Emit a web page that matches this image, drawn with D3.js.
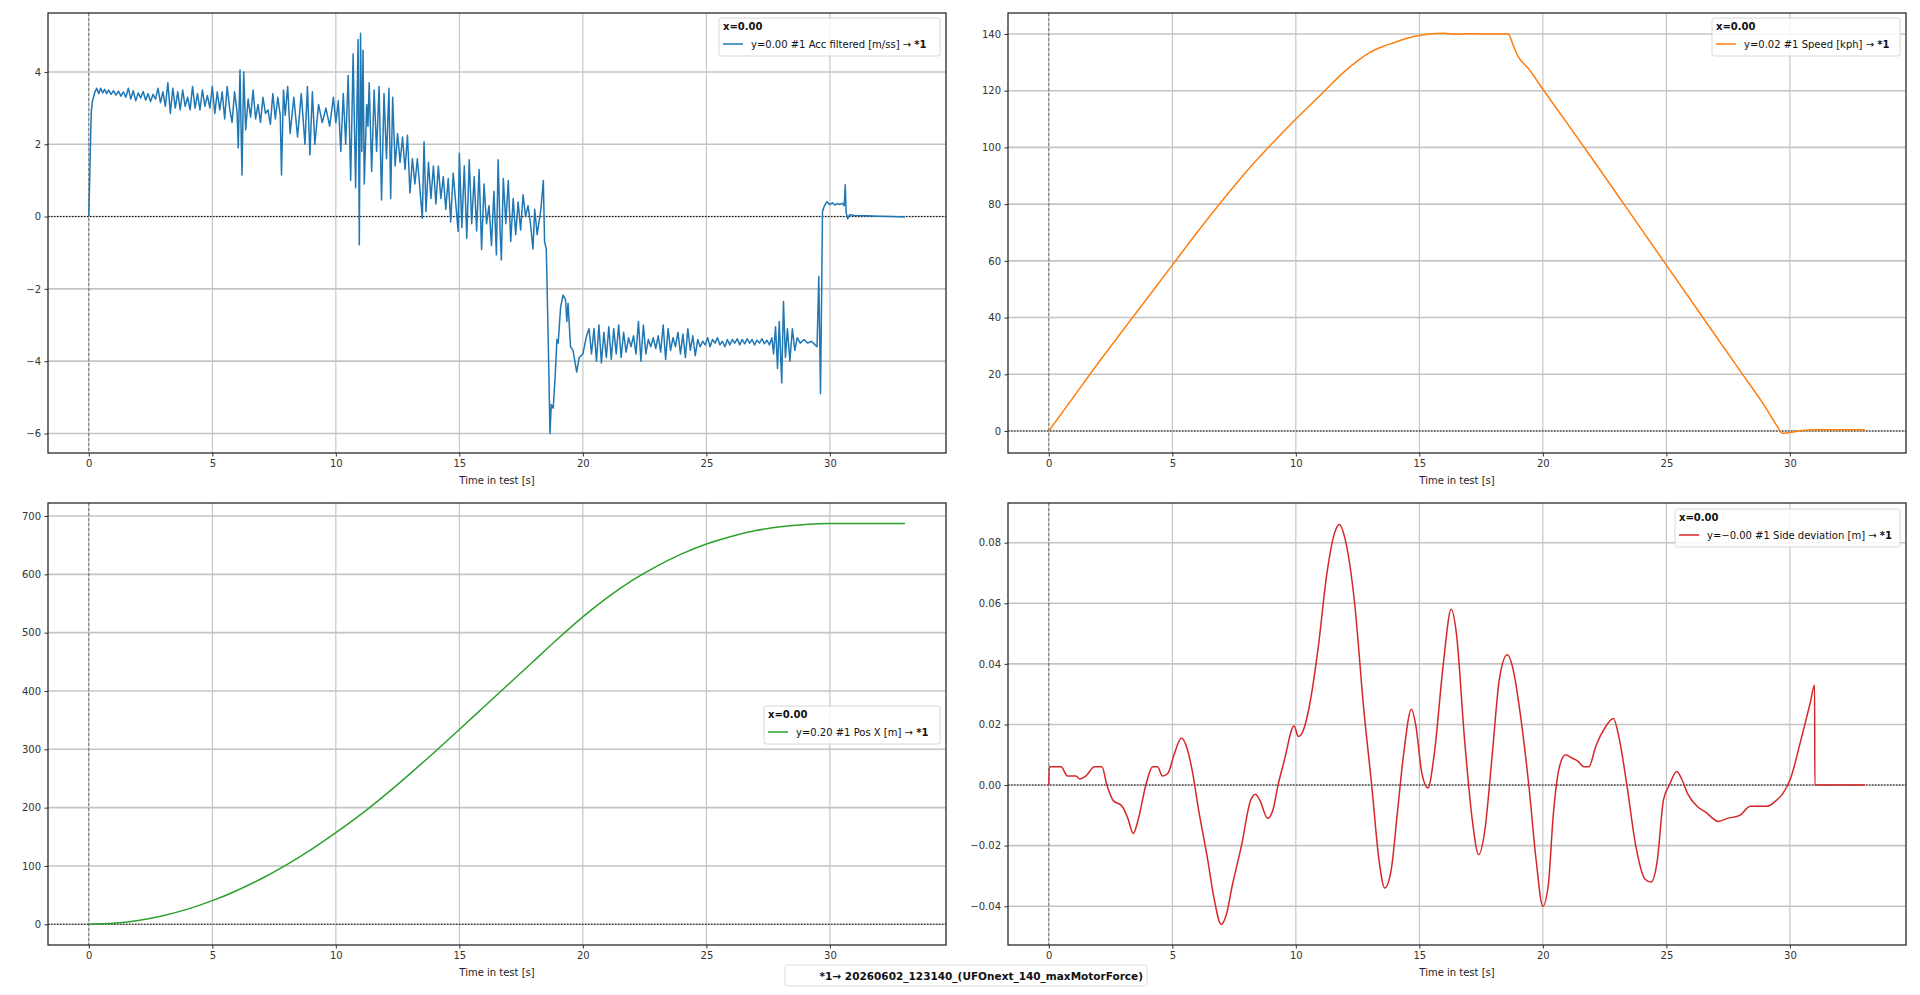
<!DOCTYPE html>
<html>
<head>
<meta charset="utf-8">
<script src="https://cdn.jsdelivr.net/npm/d3@7"></script>
<style>
	body { margin: 0; background: #fff; overflow: hidden; }
	svg text { font-family: "DejaVu Sans", sans-serif; }
</style>
</head>
<body>
<div id="my_data"></div>
<script>
// shared time ticks [s]
var timeTicks = [0, 5, 10, 15, 20, 25, 30];

// #1 Acc filtered [m/ss]  [t, value]
var accData = [
	[0.00, 0.00], [0.05, 1.5], [0.10, 2.9], [0.15, 3.2], [0.25, 3.45], [0.32, 3.55], [0.40, 3.40], [0.48, 3.55],
	[0.56, 3.42], [0.64, 3.52], [0.72, 3.40], [0.80, 3.50], [0.90, 3.38], [1.00, 3.48], [1.10, 3.36], [1.20, 3.47],
	[1.30, 3.33], [1.40, 3.45], [1.50, 3.30], [1.60, 3.55], [1.70, 3.25], [1.80, 3.48], [1.90, 3.20], [2.00, 3.42],
	[2.10, 3.28], [2.20, 3.46], [2.30, 3.22], [2.40, 3.40], [2.50, 3.18], [2.60, 3.38], [2.70, 3.25], [2.80, 3.55],
	[2.90, 3.15], [3.00, 3.45], [3.10, 3.05], [3.20, 3.70], [3.30, 2.85], [3.40, 3.55], [3.50, 3.00], [3.60, 3.45],
	[3.70, 2.95], [3.80, 3.50], [3.90, 3.05], [4.00, 3.30], [4.10, 2.95], [4.20, 3.60], [4.30, 3.00], [4.40, 3.40],
	[4.50, 2.95], [4.60, 3.50], [4.70, 3.05], [4.80, 3.35], [4.90, 3.00], [5.00, 3.60], [5.10, 2.85], [5.20, 3.45],
	[5.30, 2.95], [5.40, 3.45], [5.50, 2.70], [5.60, 3.60], [5.70, 3.00], [5.80, 2.60], [5.90, 3.45], [6.00, 2.90],
	[6.05, 1.90], [6.12, 4.05], [6.20, 1.15], [6.27, 4.00], [6.35, 2.40], [6.45, 3.25], [6.55, 2.75], [6.65, 3.50],
	[6.75, 2.70], [6.85, 3.10], [6.95, 2.60], [7.05, 3.30], [7.15, 2.85], [7.25, 2.95], [7.35, 2.55], [7.45, 3.40],
	[7.55, 2.70], [7.65, 3.30], [7.75, 2.80], [7.80, 1.15], [7.88, 3.50], [7.95, 2.80], [8.05, 3.60], [8.15, 2.30],
	[8.30, 3.30], [8.45, 2.20], [8.60, 3.40], [8.75, 2.00], [8.85, 3.60], [8.95, 1.70], [9.05, 3.45], [9.15, 2.00],
	[9.30, 3.10], [9.45, 2.60], [9.60, 3.00], [9.75, 2.50], [9.90, 3.30], [10.00, 2.60], [10.10, 3.20], [10.20, 1.80],
	[10.30, 3.40], [10.40, 2.00], [10.50, 3.90], [10.60, 1.00], [10.70, 4.50], [10.80, 0.80], [10.90, 4.90], [10.95, -0.78],
	[11.00, 5.07], [11.05, 1.80], [11.10, 4.60], [11.15, 0.90], [11.25, 3.10], [11.30, 2.50], [11.35, 3.70], [11.45, 1.25],
	[11.55, 3.50], [11.65, 1.80], [11.75, 3.60], [11.85, 0.46], [11.95, 3.40], [12.05, 1.60], [12.15, 3.55], [12.22, 0.50],
	[12.30, 3.30], [12.40, 1.40], [12.50, 2.30], [12.60, 1.50], [12.70, 2.20], [12.80, 1.30], [12.90, 2.25], [13.00, 0.65],
	[13.10, 1.60], [13.20, 0.90], [13.30, 1.60], [13.40, 0.80], [13.50, -0.05], [13.57, 2.07], [13.65, 0.14], [13.75, 1.50],
	[13.85, 0.50], [13.95, 1.40], [14.05, 0.35], [14.15, 1.40], [14.25, 0.50], [14.35, 1.10], [14.45, 0.20], [14.55, 1.05],
	[14.65, -0.15], [14.75, 1.20], [14.85, 0.40], [14.95, -0.41], [15.00, 1.75], [15.10, -0.30], [15.20, 1.40], [15.30, -0.60],
	[15.40, 1.57], [15.50, -0.20], [15.60, 1.10], [15.70, -0.40], [15.80, 1.30], [15.90, -0.92], [16.00, 0.90], [16.10, -0.20],
	[16.20, 0.30], [16.30, -0.80], [16.40, 0.70], [16.50, -1.06], [16.57, 1.57], [16.65, -0.40], [16.70, -1.20], [16.78, 1.05],
	[16.88, -0.20], [16.98, 1.00], [17.08, -0.69], [17.18, 0.50], [17.28, -0.50], [17.38, 0.40], [17.48, -0.37], [17.58, 0.60],
	[17.68, 0.00], [17.78, 0.30], [17.88, -0.20], [17.98, -0.90], [18.05, 0.20], [18.15, -0.50], [18.30, 0.20], [18.40, 1.00],
	[18.45, -0.70], [18.52, -0.90], [18.60, -3.50], [18.67, -6.00], [18.72, -5.20], [18.80, -5.30], [18.88, -4.40], [18.95, -3.40],
	[19.00, -3.50], [19.10, -2.50], [19.20, -2.17], [19.30, -2.30], [19.35, -2.90], [19.40, -2.40], [19.50, -3.60], [19.60, -3.70],
	[19.75, -4.30], [19.85, -3.90], [20.00, -3.80], [20.15, -3.30], [20.25, -3.10], [20.35, -3.80], [20.45, -3.10], [20.55, -4.00],
	[20.65, -3.00], [20.75, -4.05], [20.85, -3.20], [20.95, -3.90], [21.05, -3.05], [21.15, -3.95], [21.25, -3.10], [21.35, -3.80],
	[21.45, -3.00], [21.55, -3.90], [21.65, -3.20], [21.75, -3.75], [21.85, -3.35], [21.95, -3.60], [22.05, -3.30], [22.15, -3.80],
	[22.25, -2.90], [22.35, -4.00], [22.45, -3.00], [22.55, -3.80], [22.65, -3.40], [22.75, -3.60], [22.85, -3.35], [22.95, -3.65],
	[23.05, -3.30], [23.15, -3.75], [23.25, -3.00], [23.35, -3.95], [23.45, -3.10], [23.55, -3.70], [23.65, -3.35], [23.75, -3.60],
	[23.85, -3.20], [23.95, -3.80], [24.05, -3.25], [24.15, -3.90], [24.25, -3.10], [24.35, -3.70], [24.45, -3.30], [24.55, -3.85],
	[24.65, -3.40], [24.75, -3.60], [24.85, -3.45], [24.95, -3.55], [25.05, -3.35], [25.15, -3.60], [25.25, -3.40], [25.35, -3.50],
	[25.45, -3.35], [25.55, -3.55], [25.65, -3.45], [25.75, -3.60], [25.85, -3.40], [25.95, -3.55], [26.05, -3.40], [26.15, -3.50],
	[26.25, -3.38], [26.35, -3.55], [26.45, -3.40], [26.55, -3.52], [26.65, -3.38], [26.75, -3.50], [26.85, -3.40], [26.95, -3.55],
	[27.05, -3.42], [27.15, -3.50], [27.25, -3.38], [27.35, -3.52], [27.45, -3.42], [27.55, -3.55], [27.65, -3.35], [27.72, -3.80],
	[27.80, -3.05], [27.88, -4.20], [27.95, -2.90], [28.05, -4.60], [28.12, -2.35], [28.20, -3.90], [28.28, -3.10], [28.38, -4.00],
	[28.48, -3.10], [28.58, -3.70], [28.68, -3.35], [28.80, -3.50], [28.95, -3.40], [29.10, -3.50], [29.25, -3.45], [29.40, -3.55],
	[29.48, -3.60], [29.55, -1.66], [29.62, -4.90], [29.66, -2.50], [29.70, 0.14], [29.78, 0.30], [29.88, 0.41], [30.00, 0.33],
	[30.10, 0.38], [30.20, 0.32], [30.30, 0.36], [30.40, 0.33], [30.50, 0.37], [30.58, 0.30], [30.62, 0.88], [30.66, 0.10],
	[30.72, -0.06], [30.80, 0.05], [31.00, 0.03], [31.50, 0.02], [32.00, 0.01], [32.50, 0.00], [33.04, -0.01]
];

// #1 Speed [kph]
var speedData = [
	[0, 0], [1, 12.0], [2, 24.0], [3, 35.5], [4, 47.0], [5, 58.5], [6, 70.0], [7, 81.0], [8, 91.5], [9, 101.0],
	[10, 110.0], [11, 118.5], [12, 127.0], [12.5, 130.5], [13, 133.5], [13.5, 135.5], [14, 137.0], [14.5, 138.5],
	[15, 139.5], [15.5, 140.1], [16, 140.3], [16.5, 139.9], [17, 140.1], [17.5, 140.0], [18, 140.0], [18.6, 140.0],
	[18.8, 136.0], [19.0, 132.0], [19.4, 128.0], [20, 120.5], [21, 108.3], [22, 96.0], [23, 83.5], [24, 71.0],
	[25, 58.5], [26, 46.0], [27, 33.5], [28, 21.0], [29, 8.5], [29.5, 1.5], [29.7, -0.8], [30.0, -0.5], [30.3, -0.1],
	[30.6, 0.3], [31, 0.4], [33.04, 0.4]
];

// #1 Pos X [m]
var posData = [
	[0, 0], [1, 1.7], [2, 6.7], [3, 14.8], [4, 26.0], [5, 40.5], [6, 58.0], [7, 78.5], [8, 102.0], [9, 128.0],
	[10, 157.0], [11, 188.0], [12, 222.0], [13, 258.0], [14, 295.5], [15, 334.0], [16, 373.0], [17, 412.0],
	[18, 451.0], [19, 490.0], [20, 527.0], [21, 560.5], [22, 589.5], [23, 614.0], [24, 635.0], [25, 652.0],
	[26, 665.0], [27, 675.0], [28, 681.5], [29, 685.5], [30, 687.0], [31, 687.0], [32, 687.0], [33.04, 687.0]
];

// #1 Side deviation [m]
var sideData = [
	[0, 0], [0.02, 0.006], [0.5, 0.006], [0.75, 0.003], [1.1, 0.003], [1.25, 0.002], [1.5, 0.003], [1.85, 0.006],
	[2.15, 0.006], [2.35, 0.0], [2.6, -0.005], [2.97, -0.007], [3.2, -0.011], [3.42, -0.016], [3.6, -0.012],
	[3.96, 0.001], [4.2, 0.006], [4.4, 0.006], [4.6, 0.003], [4.83, 0.004], [5.07, 0.010], [5.37, 0.0155],
	[5.6, 0.012], [5.8, 0.005], [6.06, -0.008], [6.44, -0.025], [6.68, -0.037], [6.98, -0.046], [7.18, -0.043],
	[7.43, -0.033], [7.8, -0.020], [8.17, -0.005], [8.37, -0.003], [8.54, -0.005], [8.86, -0.011], [9.08, -0.008],
	[9.28, 0.0], [9.53, 0.008], [9.93, 0.0195], [10.1, 0.016], [10.3, 0.018], [10.57, 0.027], [10.9, 0.045],
	[11.26, 0.070], [11.56, 0.083], [11.76, 0.086], [12.0, 0.081], [12.38, 0.060], [12.75, 0.025], [13.07, 0.0],
	[13.37, -0.025], [13.6, -0.034], [13.86, -0.028], [14.1, -0.010], [14.36, 0.010], [14.68, 0.025], [14.85, 0.020],
	[15.1, 0.004], [15.35, -0.001], [15.6, 0.010], [15.97, 0.040], [16.29, 0.058], [16.5, 0.050], [16.83, 0.015],
	[17.15, -0.012], [17.4, -0.023], [17.65, -0.015], [17.95, 0.010], [18.24, 0.035], [18.56, 0.043], [18.8, 0.038],
	[19.06, 0.025], [19.43, 0.0], [19.73, -0.025], [20.0, -0.040], [20.22, -0.033], [20.42, -0.010], [20.67, 0.006],
	[20.92, 0.010], [21.16, 0.009], [21.4, 0.008], [21.66, 0.006], [21.86, 0.006], [22.15, 0.013], [22.52, 0.019],
	[22.85, 0.022], [23.1, 0.015], [23.4, 0.0], [23.76, -0.020], [24.13, -0.031], [24.38, -0.032], [24.63, -0.025],
	[24.88, -0.005], [25.12, 0.0], [25.42, 0.0045], [25.62, 0.002], [25.87, -0.003], [26.24, -0.007], [26.6, -0.009],
	[27.1, -0.012], [27.47, -0.011], [27.97, -0.010], [28.4, -0.007], [29.08, -0.007], [29.46, -0.005], [29.7, -0.003],
	[30.02, 0.002], [30.45, 0.015], [30.82, 0.027], [31.0, 0.033], [31.01, 0.0], [33.04, 0.0]
];

var accTicks = [-6, -4, -2, 0, 2, 4];
var speedTicks = [0, 20, 40, 60, 80, 100, 120, 140];
var posTicks = [0, 100, 200, 300, 400, 500, 600, 700];
var sideTicks = [-0.04, -0.02, 0, 0.02, 0.04, 0.06, 0.08];

var legendTexts = [
	"y=0.00 #1 Acc filtered [m/ss] \u2192 ",
	"y=0.02 #1 Speed [kph] \u2192 ",
	"y=0.20 #1 Pos X [m] \u2192 ",
	"y=\u22120.00 #1 Side deviation [m] \u2192 "
];
var footnote = "*1\u2192 20260602_123140_(UFOnext_140_maxMotorForce)";

document.addEventListener("DOMContentLoaded", function(event) {

	var width = 1920;
	var height = 995;

	const svg = d3.select("#my_data").append("svg")
	.attr("width", width)
	.attr("height", height);

	var fmtMinus = function(s) { return s.replace("-", "\u2212"); };

	// panel layout (plot area in px) + legend box
	var panels = [
		{ data: accData, ticks: accTicks, fmt: d => fmtMinus(d3.format("d")(d)), color: "#1f77b4", curve: d3.curveLinear,
		  x: 48, y: 13, w: 898, h: 440, yDom: [-6.54, 5.63], legend: [719, 18, 221], label: legendTexts[0] },
		{ data: speedData, ticks: speedTicks, fmt: d => d3.format("d")(d), color: "#ff7f0e", curve: d3.curveMonotoneX,
		  x: 1008, y: 13, w: 898, h: 440, yDom: [-7.76, 147.4], legend: [1712, 18, 188], label: legendTexts[1] },
		{ data: posData, ticks: posTicks, fmt: d => d3.format("d")(d), color: "#2ca02c", curve: d3.curveMonotoneX,
		  x: 48, y: 503, w: 898, h: 442, yDom: [-35.5, 722.3], legend: [764, 706, 176], label: legendTexts[2] },
		{ data: sideData, ticks: sideTicks, fmt: d => fmtMinus(d3.format(".2f")(d)), color: "#d62728", curve: d3.curveMonotoneX,
		  x: 1008, y: 503, w: 898, h: 442, yDom: [-0.0528, 0.0931], legend: [1675, 509, 225], label: legendTexts[3] }
	];

	panels.forEach(function(p) {
		var xScale = d3.scaleLinear().domain([-1.652, 34.70]).range([p.x, p.x + p.w]);
		var yScale = d3.scaleLinear().domain(p.yDom).range([p.y + p.h, p.y]);

		var g = svg.append("g");

		// grid
		g.append("g").selectAll("line")
		.data(timeTicks)
		.enter().append("line")
		.attr("x1", d => xScale(d)).attr("x2", d => xScale(d))
		.attr("y1", p.y).attr("y2", p.y + p.h)
		.attr("stroke", "#bcbcbc")
		.attr("stroke-width", 1);

		g.append("g").selectAll("line")
		.data(p.ticks)
		.enter().append("line")
		.attr("x1", p.x).attr("x2", p.x + p.w)
		.attr("y1", d => yScale(d)).attr("y2", d => yScale(d))
		.attr("stroke", "#c4c4c4")
		.attr("stroke-width", 1.6);

		// zero markers
		g.append("line")
		.attr("x1", p.x).attr("x2", p.x + p.w)
		.attr("y1", yScale(0)).attr("y2", yScale(0))
		.attr("stroke", "#111")
		.attr("stroke-width", 1)
		.attr("stroke-dasharray", "1.5,1.5");

		g.append("line")
		.attr("x1", xScale(0)).attr("x2", xScale(0))
		.attr("y1", p.y).attr("y2", p.y + p.h)
		.attr("stroke", "#444")
		.attr("stroke-width", 0.7)
		.attr("stroke-dasharray", "3,2");

		// axes
		const xAxis = d3.axisBottom(xScale).tickValues(timeTicks).tickSize(3.5).tickPadding(3.5);
		const yAxis = d3.axisLeft(yScale).tickValues(p.ticks).tickFormat(p.fmt).tickSize(3.5).tickPadding(3.5);

		g.append("g")
		.attr("transform", "translate(0," + (p.y + p.h) + ")")
		.call(xAxis)
		.call(a => a.select(".domain").remove())
		.call(a => a.selectAll("text").attr("font-size", 10).attr("fill", "#333").style("font-family", "DejaVu Sans"))
		.call(a => a.selectAll("line").attr("stroke", "#333"));

		g.append("g")
		.attr("transform", "translate(" + p.x + ",0)")
		.call(yAxis)
		.call(a => a.select(".domain").remove())
		.call(a => a.selectAll("text").attr("font-size", 10).attr("fill", "#333").style("font-family", "DejaVu Sans"))
		.call(a => a.selectAll("line").attr("stroke", "#333"));

		g.append("text")
		.attr("x", p.x + p.w / 2)
		.attr("y", p.y + p.h + 31)
		.attr("text-anchor", "middle")
		.attr("font-size", 10)
		.attr("fill", "#222")
		.text("Time in test [s]");

		// series
		const line = d3.line()
		.curve(p.curve)
		.x(d => xScale(d[0]))
		.y(d => yScale(d[1]));

		g.append("path")
		.datum(p.data)
		.attr("fill", "none")
		.attr("stroke", p.color)
		.attr("stroke-width", 1.5)
		.attr("stroke-linejoin", "round")
		.attr("d", line);

		// frame
		g.append("rect")
		.attr("x", p.x).attr("y", p.y)
		.attr("width", p.w).attr("height", p.h)
		.attr("fill", "none")
		.attr("stroke", "#2a2a2a")
		.attr("stroke-width", 1.3);

		// legend
		var lx = p.legend[0], ly = p.legend[1], lw = p.legend[2];
		var lg = g.append("g");
		lg.append("rect")
		.attr("x", lx).attr("y", ly)
		.attr("width", lw).attr("height", 38)
		.attr("rx", 2.5)
		.attr("fill", "#fff")
		.attr("fill-opacity", 0.85)
		.attr("stroke", "#d8d8d8");

		lg.append("text")
		.attr("x", lx + 4).attr("y", ly + 12)
		.attr("font-size", 10)
		.attr("font-weight", "bold")
		.attr("fill", "#111")
		.text("x=0.00");

		lg.append("line")
		.attr("x1", lx + 4).attr("x2", lx + 24)
		.attr("y1", ly + 26).attr("y2", ly + 26)
		.attr("stroke", p.color)
		.attr("stroke-width", 1.5);

		var t = lg.append("text")
		.attr("x", lx + 32).attr("y", ly + 30)
		.attr("font-size", 10)
		.attr("fill", "#111");
		t.append("tspan").text(p.label);
		t.append("tspan").attr("font-weight", "bold").text("*1");
	});

	// file reference
	svg.append("rect")
	.attr("x", 785).attr("y", 965)
	.attr("width", 362).attr("height", 21)
	.attr("rx", 2)
	.attr("fill", "#fff")
	.attr("stroke", "#dcdcdc");

	svg.append("text")
	.attr("x", 1143).attr("y", 980)
	.attr("text-anchor", "end")
	.attr("font-size", 10.5)
	.attr("font-weight", "bold")
	.attr("fill", "#111")
	.text(footnote);

});
</script>
</body>
</html>
